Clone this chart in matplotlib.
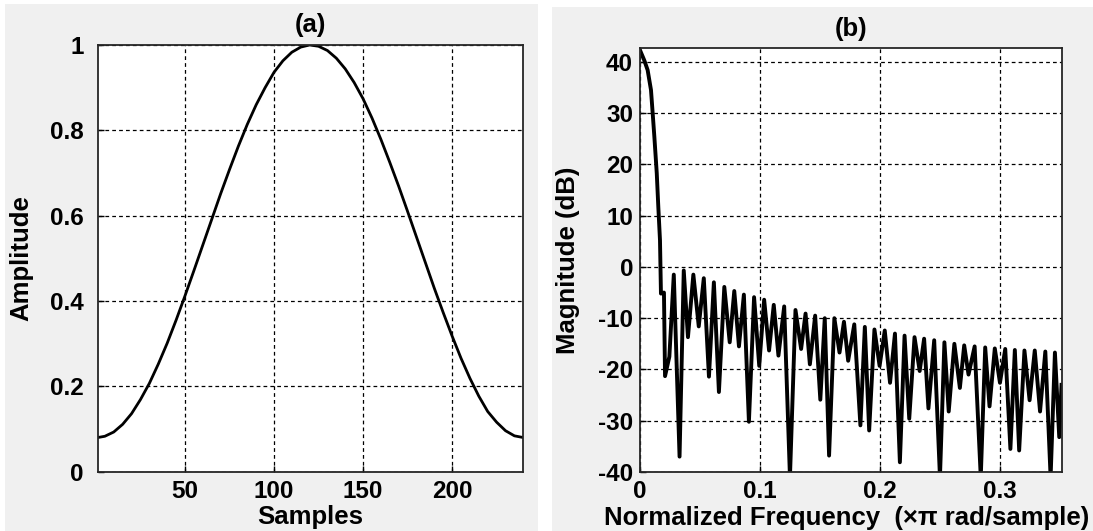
import numpy as np
import matplotlib.pyplot as plt
from matplotlib.patches import Rectangle

plt.rcParams['font.family'] = ['Liberation Sans', 'DejaVu Sans']
plt.rcParams['font.weight'] = 'bold'
plt.rcParams['axes.unicode_minus'] = False

# (a) window amplitude, read every 5 samples
samples = [1, 5, 10, 15, 20, 25, 30, 35, 40, 45, 50, 55, 60, 65, 70, 75, 80, 85, 90,
           95, 100, 105, 110, 115, 120, 125, 130, 135, 140, 145, 150, 155, 160, 165,
           170, 175, 180, 185, 190, 195, 200, 205, 210, 215, 220, 225, 230, 235, 240]
amplitude = [0.080, 0.083, 0.093, 0.111, 0.136, 0.169, 0.207, 0.252, 0.301, 0.355,
             0.412, 0.471, 0.531, 0.591, 0.651, 0.708, 0.763, 0.814, 0.860, 0.900,
             0.936, 0.963, 0.983, 0.995, 1.000, 0.997, 0.987, 0.969, 0.944, 0.912,
             0.874, 0.829, 0.779, 0.725, 0.669, 0.610, 0.550, 0.490, 0.430, 0.373,
             0.318, 0.266, 0.219, 0.177, 0.141, 0.116, 0.096, 0.084, 0.080]

# (b) magnitude response: main lobe, nulls and sidelobe peaks
mainlobe_f = [0.0, 0.0036, 0.0064, 0.0092, 0.0106, 0.0120, 0.0140, 0.0153, 0.0167, 0.0175, 0.0200]
mainlobe_db = [42.3, 40.3, 38.4, 34.5, 30.0, 25.4, 18.3, 11.7, 5.2, -5.2, -5.0]

null_f = [0.0209, 0.0245, 0.0330, 0.0400, 0.0490, 0.0575, 0.0658, 0.0748, 0.0825, 0.0908,
          0.0994, 0.1076, 0.1154, 0.1250, 0.1343, 0.1416, 0.1503, 0.1576, 0.1663, 0.1735,
          0.1837, 0.1910, 0.1997, 0.2084, 0.2166, 0.2244, 0.2331, 0.2404, 0.2500, 0.2573,
          0.2666, 0.2738, 0.2840, 0.2913, 0.3000, 0.3087, 0.3160, 0.3247, 0.3334, 0.3422,
          0.3494]
null_db = [-21.3, -17.5, -37.0, -13.7, -11.6, -21.4, -24.4, -14.7, -15.5, -30.2,
           -19.3, -16.3, -17.3, -41.0, -16.0, -19.0, -25.9, -36.8, -16.7, -18.3,
           -30.9, -31.9, -19.3, -22.6, -38.1, -29.6, -20.3, -27.6, -41.0, -28.2,
           -23.6, -21.0, -41.0, -27.2, -22.6, -35.5, -35.8, -26.0, -28.2, -41.0,
           -33.2]

peak_f = [0.0282, 0.0365, 0.0445, 0.0532, 0.0616, 0.0703, 0.0786, 0.0866, 0.0951, 0.1035,
          0.1115, 0.1202, 0.1296, 0.1380, 0.1460, 0.1540, 0.1620, 0.1700, 0.1786, 0.1874,
          0.1954, 0.2040, 0.2125, 0.2205, 0.2288, 0.2368, 0.2452, 0.2537, 0.2620, 0.2702,
          0.2789, 0.2877, 0.2957, 0.3044, 0.3124, 0.3204, 0.3290, 0.3378, 0.3458, 0.3513]
peak_db = [-1.5, -0.7, -1.5, -2.2, -3.0, -3.9, -4.7, -5.4, -5.9, -6.4,
           -7.4, -7.7, -8.4, -9.1, -9.5, -10.0, -10.0, -10.7, -11.2, -11.7,
           -12.2, -12.4, -13.0, -13.4, -13.7, -14.0, -14.3, -14.7, -15.0, -15.3,
           -15.5, -15.7, -15.9, -16.0, -16.2, -16.3, -16.3, -16.5, -16.7, -23.0]

# join into one trace, ordered by frequency
freq = np.array(mainlobe_f + null_f + peak_f)
mag = np.array(mainlobe_db + null_db + peak_db)
order = np.argsort(freq, kind='stable')
freq, mag = freq[order], mag[order]

TICK_FS = 17.5
LABEL_FS = 18.5
grid_style = dict(color='black', linestyle=(0, (3, 2.5)), linewidth=0.9)

fig = plt.figure(figsize=(10.93, 5.31), dpi=100, facecolor='white')
# two grey figure backgrounds pasted side by side
fig.patches.append(Rectangle((5 / 1093, 0), 533 / 1093, 527 / 531, transform=fig.transFigure,
                             facecolor='#f0f0f0', edgecolor='none', zorder=-10))
fig.patches.append(Rectangle((552 / 1093, 0), 541 / 1093, 524 / 531, transform=fig.transFigure,
                             facecolor='#f0f0f0', edgecolor='none', zorder=-10))

ax1 = fig.add_axes([0.0894, 0.1117, 0.3894, 0.8036])
ax2 = fig.add_axes([0.5855, 0.1111, 0.3857, 0.7985])

ax1.plot(samples, amplitude, color='black', linewidth=2.0)
ax1.set_xlim(1, 240)
ax1.set_ylim(0, 1)
ax1.set_xticks([50, 100, 150, 200])
ax1.set_yticks([0, 0.2, 0.4, 0.6, 0.8, 1])
ax1.set_yticklabels(['0', '0.2', '0.4', '0.6', '0.8', '1'])
ax1.set_title('(a)', fontsize=LABEL_FS, fontweight='bold', pad=9)
ax1.set_xlabel('Samples', fontsize=LABEL_FS, fontweight='bold')
ax1.set_ylabel('Amplitude', fontsize=LABEL_FS, fontweight='bold')
ax1.xaxis.set_label_coords(0.5, -0.078)
ax1.yaxis.set_label_coords(-0.152, 0.5)
ax1.tick_params(axis='y', pad=10)

ax2.plot(freq, mag, color='black', linewidth=2.8)
ax2.set_xlim(0, 0.3513)
ax2.set_ylim(-40, 42.7)
ax2.set_xticks([0, 0.1, 0.2, 0.3])
ax2.set_xticklabels(['0', '0.1', '0.2', '0.3'])
ax2.set_yticks(np.arange(-40, 41, 10))
ax2.set_title('(b)', fontsize=LABEL_FS, fontweight='bold', pad=9)
ax2.set_xlabel('Normalized Frequency  (\u00d7\u03c0 rad/sample)', fontsize=LABEL_FS, fontweight='bold')
ax2.set_ylabel('Magnitude (dB)', fontsize=LABEL_FS, fontweight='bold')
ax2.xaxis.set_label_coords(0.49, -0.08)
ax2.yaxis.set_label_coords(-0.142, 0.5)
ax2.tick_params(axis='y', pad=5)

for ax in (ax1, ax2):
    ax.set_facecolor('white')
    ax.grid(True, **grid_style)
    ax.tick_params(direction='in', length=4, width=1, labelsize=TICK_FS, colors='black')
    ax.tick_params(axis='x', pad=6)
    for s in ax.spines.values():
        s.set_color('#262626')
        s.set_linewidth(1.3)
    for lab in ax.get_xticklabels() + ax.get_yticklabels():
        lab.set_fontweight('bold')

plt.savefig('out.png', dpi=100, facecolor=fig.get_facecolor())
